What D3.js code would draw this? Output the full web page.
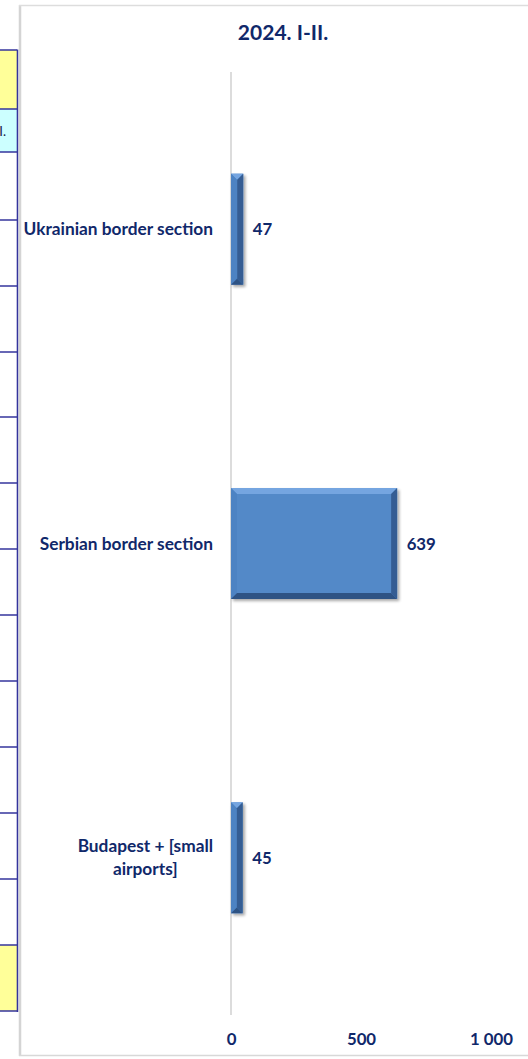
<!DOCTYPE html>
<html>
<head>
<meta charset="utf-8">
<script src="https://cdn.jsdelivr.net/npm/d3@7/dist/d3.min.js"></script>
<style>
  html, body { margin: 0; padding: 0; background: #ffffff; }
  svg { display: block; }
  text { font-family: Lato, "Open Sans", "Liberation Sans", sans-serif; font-weight: bold; }
</style>
</head>
<body>
<svg id="chart" width="528" height="1059"></svg>
<script>
// ---- data ----
const title = "2024. I-II.";
const categories = ["Ukrainian border section", "Serbian border section", "Budapest + [small airports]"];
const values = [47, 639, 45];
const xTicks = [0, 500, 1000];
const xDomain = [0, 1000];
// background table strip (left, partially visible spreadsheet)
const tableRowLines = [50, 109, 152, 220, 286, 352, 417, 483, 549, 615, 681, 747, 813, 879, 945, 1011];
const tableCellFills = [
  { top: 50, bottom: 109, fill: "#ffff99" },
  { top: 109, bottom: 152, fill: "#ccffff", text: "I." },
  { top: 945, bottom: 1011, fill: "#ffff99" }
];

// ---- layout ----
const W = 528, H = 1059;
const textColor = "#10286a";
const labelSize = 17.3;
const svg = d3.select("#chart");

// spreadsheet strip
const strip = svg.append("g");
tableCellFills.forEach(c => {
  strip.append("rect").attr("x", 0).attr("y", c.top).attr("width", 17).attr("height", c.bottom - c.top).attr("fill", c.fill);
  if (c.text) {
    strip.append("text").attr("x", 6).attr("y", (c.top + c.bottom) / 2 + 5)
      .attr("text-anchor", "end").attr("font-size", 13).style("font-weight", "normal")
      .attr("fill", "#1a1a4a").text(c.text);
  }
});
tableRowLines.forEach(y => {
  strip.append("line").attr("x1", 0).attr("x2", 17).attr("y1", y).attr("y2", y)
    .attr("stroke", "#34349c").attr("stroke-width", 1.5);
});
strip.append("line").attr("x1", 17.5).attr("x2", 17.5).attr("y1", 49.5).attr("y2", 1012)
  .attr("stroke", "#34349c").attr("stroke-width", 1.6);

// chart frame (shadowed edges)
const frame = svg.append("g");
frame.append("rect").attr("x", 21).attr("y", 6).attr("width", W).attr("height", 1049).attr("fill", "#ffffff");
frame.append("line").attr("x1", 20).attr("x2", 20).attr("y1", 5).attr("y2", 1056).attr("stroke", "#d4d4d4").attr("stroke-width", 2.5);
frame.append("line").attr("x1", 19).attr("x2", W).attr("y1", 5.5).attr("y2", 5.5).attr("stroke", "#dddddd").attr("stroke-width", 1.5);
frame.append("line").attr("x1", 19).attr("x2", W).attr("y1", 1055.5).attr("y2", 1055.5).attr("stroke", "#d8d8d8").attr("stroke-width", 1.5);

// scales
const x = d3.scaleLinear().domain(xDomain).range([231, 491]);
const y = d3.scaleBand().domain(categories).range([72, 1015]).paddingInner(0.647).paddingOuter(0.3235);

// title
svg.append("text").attr("x", 283).attr("y", 40).attr("text-anchor", "middle")
  .attr("font-size", 21).attr("fill", textColor).text(title);

// vertical axis line at 0
svg.append("line").attr("x1", x(0)).attr("x2", x(0)).attr("y1", 72).attr("y2", 1015)
  .attr("stroke", "#d0d0d0").attr("stroke-width", 1.5);

// x axis tick labels
const fmt = d3.formatLocale({ decimal: ",", thousands: "\u00a0", grouping: [3], currency: ["", ""] }).format(",d");
const xAxis = d3.axisBottom(x).tickValues(xTicks).tickFormat(fmt).tickSize(0).tickPadding(0);
const gx = svg.append("g").attr("transform", "translate(0,1033)").call(xAxis);
gx.select(".domain").remove();
gx.selectAll("text").attr("font-size", 16.8).attr("fill", textColor)
  .style("font-family", "Lato, 'Open Sans', sans-serif").style("font-weight", "bold");

// shadow filter
const defs = svg.append("defs");
const f = defs.append("filter").attr("id", "sh").attr("x", "-20%").attr("y", "-20%").attr("width", "160%").attr("height", "160%");
f.append("feGaussianBlur").attr("in", "SourceAlpha").attr("stdDeviation", 1.5).attr("result", "b");
f.append("feOffset").attr("in", "b").attr("dx", 1.5).attr("dy", 1.5).attr("result", "o");
f.append("feComponentTransfer").attr("in", "o").attr("result", "o2")
  .append("feFuncA").attr("type", "linear").attr("slope", 0.35);
const m = f.append("feMerge");
m.append("feMergeNode").attr("in", "o2");
m.append("feMergeNode").attr("in", "SourceGraphic");

// bars with bevel
const bars = svg.append("g");
categories.forEach((c, i) => {
  const x0 = x(0), x1 = x(values[i]);
  const y0 = y(c), y1 = y(c) + y.bandwidth();
  const b = Math.min(6, (x1 - x0) / 2);
  const g = bars.append("g").attr("filter", "url(#sh)");
  g.append("rect").attr("x", x0).attr("y", y0).attr("width", x1 - x0).attr("height", y1 - y0).attr("fill", "#5389c8");
  const poly = (pts, fill) => g.append("polygon").attr("points", pts.map(p => p.join(",")).join(" ")).attr("fill", fill);
  poly([[x0, y0], [x1, y0], [x1 - b, y0 + b], [x0 + b, y0 + b]], "#74a5e0");
  poly([[x0, y0], [x0 + b, y0 + b], [x0 + b, y1 - b], [x0, y1]], "#4e83c3");
  poly([[x0, y1], [x0 + b, y1 - b], [x1 - b, y1 - b], [x1, y1]], "#2e5284");
  poly([[x1, y0], [x1, y1], [x1 - b, y1 - b], [x1 - b, y0 + b]], "#345d93");
});

// value labels
svg.append("g").selectAll("text").data(categories).join("text")
  .attr("x", (c, i) => x(values[i]) + 9.5)
  .attr("y", c => y(c) + y.bandwidth() / 2 + 6)
  .attr("font-size", 16.8).attr("fill", textColor)
  .text((c, i) => values[i]);

// category labels (wrapped, block right-aligned, lines centred)
const labelRight = x(0) - 18, maxW = 200, lineH = 23;
const gl = svg.append("g");
categories.forEach(c => {
  const t = gl.append("text").attr("font-size", labelSize).attr("fill", textColor).attr("text-anchor", "middle");
  const words = c.split(" ");
  let lines = [], cur = [];
  const probe = gl.append("text").attr("font-size", labelSize);
  words.forEach(w => {
    const test = cur.concat([w]).join(" ");
    probe.text(test);
    if (probe.node().getComputedTextLength() > maxW && cur.length) { lines.push(cur.join(" ")); cur = [w]; }
    else cur.push(w);
  });
  lines.push(cur.join(" "));
  let widest = 0;
  lines.forEach(l => { probe.text(l); widest = Math.max(widest, probe.node().getComputedTextLength()); });
  probe.remove();
  const cx = labelRight - widest / 2;
  const cy = y(c) + y.bandwidth() / 2;
  lines.forEach((l, k) => {
    t.append("tspan").attr("x", cx).attr("y", cy + 6 + (k - (lines.length - 1) / 2) * lineH).text(l);
  });
});
</script>
</body>
</html>
